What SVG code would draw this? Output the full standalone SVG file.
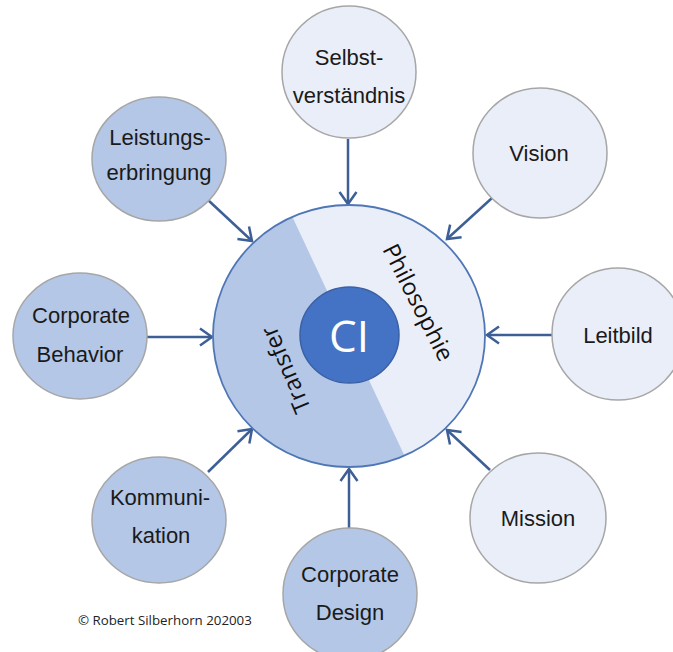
<svg xmlns="http://www.w3.org/2000/svg" width="673" height="652" viewBox="0 0 673 652">
<style>
.dark{fill:#b4c7e7;stroke:#a6a6a6;stroke-width:1.5}
.light{fill:#e9eef8;stroke:#a6a6a6;stroke-width:1.5}
.lbl{font-family:"Liberation Sans",Arial,sans-serif;font-size:22px;fill:#1a1a1a;text-anchor:middle}
.conn{stroke:#3d5f96;stroke-width:2.5;fill:none;marker-end:url(#arr)}
.rot{font-family:"Open Sans","Noto Sans",sans-serif;font-size:23.5px;fill:#111;text-anchor:middle;dominant-baseline:central}
</style>
<defs>
<marker id="arr" markerUnits="userSpaceOnUse" markerWidth="30" markerHeight="30" refX="0" refY="0" orient="auto" overflow="visible">
<path d="M -12 -8.5 L 0 0 L -12 8.5" fill="none" stroke="#3d5f96" stroke-width="2.5" stroke-linejoin="miter"/>
</marker>
<clipPath id="bigclip">
<ellipse cx="349" cy="336" rx="136" ry="131"/>
</clipPath>
</defs>
<rect width="673" height="652" fill="#ffffff"/>
<g id="connectors">
<line class="conn" x1="348" y1="139" x2="348" y2="204"/>
<line class="conn" x1="492" y1="198" x2="447" y2="239"/>
<line class="conn" x1="552" y1="335" x2="487" y2="335"/>
<line class="conn" x1="490" y1="470" x2="447" y2="430"/>
<line class="conn" x1="349" y1="528" x2="349" y2="469"/>
<line class="conn" x1="208" y1="472" x2="252" y2="429"/>
<line class="conn" x1="147" y1="337" x2="212" y2="337"/>
<line class="conn" x1="208" y1="200" x2="252" y2="241"/>
</g>
<g id="center">
<ellipse cx="349" cy="336" rx="136" ry="131" fill="#e9eef8"/>
<polygon points="268,165 429,508 150,520 150,150" fill="#b4c7e7" clip-path="url(#bigclip)"/>
<ellipse cx="349" cy="336" rx="136" ry="131" fill="none" stroke="#4f76b5" stroke-width="1.8"/>
<text class="rot" transform="translate(419 302) rotate(63)">Philosophie</text>
<text class="rot" transform="translate(285 370) rotate(-113)">Transfer</text>
</g>
<g id="ci">
<ellipse cx="349.5" cy="335" rx="49.5" ry="48" fill="#4472c4" stroke="#3a61a6" stroke-width="1.5"/>
<text x="349" y="352" font-family="'Open Sans','Noto Sans',sans-serif" font-size="44" fill="#ffffff" text-anchor="middle">CI</text>
</g>
<g id="selbstverstaendnis">
<ellipse class="light" cx="349" cy="72" rx="67" ry="66"/>
<text class="lbl" x="349" y="65">Selbst-</text>
<text class="lbl" x="349" y="103">verständnis</text>
</g>
<g id="vision">
<ellipse class="light" cx="540" cy="153" rx="67" ry="65"/>
<text class="lbl" x="539" y="161">Vision</text>
</g>
<g id="leitbild">
<ellipse class="light" cx="618" cy="334" rx="66" ry="66"/>
<text class="lbl" x="618" y="343">Leitbild</text>
</g>
<g id="mission">
<ellipse class="light" cx="538" cy="518" rx="68" ry="65"/>
<text class="lbl" x="538" y="526">Mission</text>
</g>
<g id="corporate-design">
<ellipse class="dark" cx="350" cy="594" rx="67" ry="66"/>
<text class="lbl" x="350" y="582">Corporate</text>
<text class="lbl" x="350" y="620">Design</text>
</g>
<g id="kommunikation">
<ellipse class="dark" cx="159" cy="520" rx="67" ry="63"/>
<text class="lbl" x="160" y="505">Kommuni-</text>
<text class="lbl" x="161" y="543">kation</text>
</g>
<g id="corporate-behavior">
<ellipse class="dark" cx="80" cy="336" rx="67" ry="63"/>
<text class="lbl" x="81" y="323">Corporate</text>
<text class="lbl" x="80" y="362">Behavior</text>
</g>
<g id="leistungserbringung">
<ellipse class="dark" cx="159" cy="159" rx="67" ry="62"/>
<text class="lbl" x="160" y="145">Leistungs-</text>
<text class="lbl" x="159" y="180">erbringung</text>
</g>
<text x="78" y="625" font-family="'Open Sans','Noto Sans',sans-serif" font-size="13.3" fill="#222">© Robert Silberhorn 202003</text>
</svg>
